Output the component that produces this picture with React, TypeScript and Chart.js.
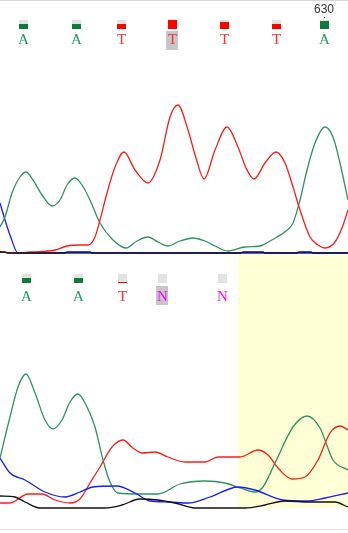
import React, { useEffect, useRef } from "react";
import Chart from "chart.js/auto";

// ---------- DATA (scan position, signal height) ----------
// Top panel traces
const topGreen: [number, number][] = [
  [0, 26], [5, 36], [12, 60], [20, 76], [26, 81], [33, 73], [42, 58], [52, 47], [60, 53], [67, 68],
  [75, 75], [82, 68], [90, 53], [100, 30], [113, 13], [126, 5], [137, 12], [148, 16], [158, 11],
  [168, 7], [180, 12], [193, 15], [205, 12], [215, 7], [228, 2], [245, 6], [260, 7], [270, 12],
  [277, 16], [286, 22], [293, 30], [300, 53], [307, 83], [315, 110], [325, 126], [333, 116],
  [340, 90], [348, 53],
];
const topRed: [number, number][] = [
  [0, 1], [18, 0], [30, 1], [42, 1.5], [55, 3], [67, 7], [80, 8], [88, 8], [95, 16], [100, 33],
  [107, 60], [115, 86], [124, 101], [135, 83], [148, 70], [160, 93], [170, 136], [178, 148],
  [188, 123], [196, 95], [204, 74], [215, 103], [227, 126], [238, 106], [246, 85], [254, 74],
  [265, 90], [276, 101], [285, 90], [293, 66], [300, 43], [310, 16], [318, 8], [325, 5],
  [335, 11], [342, 25], [348, 43],
];
const topBlue: [number, number][] = [
  [0, 50], [5, 33], [10, 18], [18, 0], [348, 0],
];
const topBlack: [number, number][] = [
  [0, 1], [5, 1], [7, 0], [65, 0], [67, 1], [90, 1], [92, 0], [241, 0], [243, 1], [263, 1],
  [265, 0], [297, 0], [299, 1], [311, 1], [313, 0], [348, 0],
];

// Bottom panel traces
const botGreen: [number, number][] = [
  [0, 51], [10, 92], [18, 122], [26, 135], [35, 116], [45, 89], [53, 80], [62, 89], [70, 107],
  [78, 115], [87, 102], [95, 82], [103, 49], [110, 27], [118, 16], [140, 15], [158, 15],
  [180, 25], [205, 28], [225, 26], [240, 21], [255, 17], [263, 22], [275, 46], [293, 82],
  [307, 93], [320, 81], [333, 49], [348, 39],
];
const botRed: [number, number][] = [
  [0, 6], [10, 6], [28, 15], [42, 15], [55, 9], [70, 6], [80, 10], [90, 26], [100, 42],
  [112, 62], [123, 69], [133, 61], [142, 56], [155, 57], [168, 52], [185, 47], [205, 47],
  [218, 52], [240, 52], [258, 59], [268, 54], [278, 41], [292, 30], [305, 32], [318, 49],
  [330, 76], [340, 83], [348, 79],
];
const botBlue: [number, number][] = [
  [0, 51], [10, 36], [25, 29], [45, 17], [65, 12], [80, 17], [93, 22], [117, 23], [135, 16],
  [150, 8], [168, 7], [188, 6], [210, 12], [238, 22], [255, 19], [283, 9], [307, 8], [325, 11],
  [348, 16],
];
const botBlack: [number, number][] = [
  [0, 13], [15, 12], [25, 7], [40, 1], [105, 1], [122, 4], [140, 10], [158, 9], [175, 6],
  [195, 1], [245, 1], [265, 4], [285, 8], [310, 7], [335, 7], [348, 2],
];

// Base calls
const topBases = ["A", "A", "T", "T", "T", "T", "A"];
const topBasePos = [23, 76, 121, 172, 224, 276, 324];
const topQuality = [55, 55, 50, 100, 75, 50, 85];
const topHighlight = 3;
const topPositionLabel = "630";
const topPositionIndex = 6;

const botBases = ["A", "A", "T", "N", "N"];
const botBasePos = [26, 78, 122, 162, 222];
const botQuality = [50, 50, 12, 0, 0];
const botHighlight = 3;
const botShadeStart = 238;

// ---------- STYLE ----------
const GREEN = "#2e9160";
const RED = "#ff1a1a";
const BLUE = "#1a1aff";
const BLACK = "#111111";
const letterColor: Record<string, string> = { A: "#1f9a62", T: "#ff3030", N: "#ff00ff", C: "#1a1aff", G: "#111" };
const qualColor: Record<string, string> = { A: "#0b7a3b", T: "#ff0000", N: "#ff00ff", C: "#0000ff", G: "#000" };

const toXY = (a: [number, number][]) => a.map(([x, y]) => ({ x, y }));

function ds(data: [number, number][], color: string) {
  return {
    data: toXY(data),
    borderColor: color,
    borderWidth: 1.3,
    pointRadius: 0,
    fill: false,
    tension: 0.4,
    cubicInterpolationMode: "monotone" as const,
    clip: false as any,
  };
}

function makeBasePlugin(
  bases: string[],
  pos: number[],
  qual: number[],
  hl: number,
  boxTop: number,
  letterY: number,
  hlTop: number,
  extra: (chart: any) => void,
  shadeStart: number | null
) {
  return {
    id: "bases",
    beforeDatasetsDraw(chart: any) {
      if (shadeStart === null) return;
      const { ctx, chartArea, scales } = chart;
      const x0 = scales.x.getPixelForValue(shadeStart);
      const yb = scales.y.getPixelForValue(0);
      ctx.save();
      ctx.fillStyle = "#ffffd6";
      ctx.fillRect(x0, chartArea.top, chartArea.right - x0, yb - 1 - chartArea.top);
      ctx.restore();
    },
    afterDraw(chart: any) {
      const { ctx, scales } = chart;
      ctx.save();
      bases.forEach((b, i) => {
        const px = Math.round(scales.x.getPixelForValue(pos[i]));
        // quality box
        const bw = 9, bh = 9;
        ctx.fillStyle = "#e2e2e2";
        ctx.fillRect(px - 4, boxTop, bw, bh);
        const fh = Math.round((bh * qual[i]) / 100);
        if (fh > 0) {
          ctx.fillStyle = qualColor[b];
          ctx.fillRect(px - 4, boxTop + bh - fh, bw, fh);
        }
        if (i === hl) {
          ctx.fillStyle = "#c6c6c6";
          ctx.fillRect(px - 6, hlTop, 12, 19);
        }
        ctx.fillStyle = letterColor[b];
        ctx.font = "15px 'Liberation Serif', 'DejaVu Serif', serif";
        ctx.textAlign = "center";
        ctx.textBaseline = "middle";
        ctx.fillText(b, px + 0.5, letterY);
      });
      extra(chart);
      ctx.restore();
    },
  };
}

export default function App() {
  const topRef = useRef<HTMLCanvasElement>(null);
  const botRef = useRef<HTMLCanvasElement>(null);

  useEffect(() => {
    const commonScales = {
      x: { type: "linear" as const, min: 0, max: 348, display: false },
      y: { type: "linear" as const, min: 0, max: 253, display: false },
    };
    const commonOpts = (padBottom: number) => ({
      responsive: false,
      animation: false as const,
      layout: { padding: { left: 0, right: 0, top: 0, bottom: padBottom } },
      plugins: { legend: { display: false }, tooltip: { enabled: false } },
      scales: commonScales,
      events: [],
    });

    const topChart = new Chart(topRef.current!, {
      type: "line",
      data: {
        datasets: [ds(topBlack, BLACK), ds(topRed, RED), ds(topGreen, GREEN), ds(topBlue, BLUE)],
      },
      options: commonOpts(3) as any,
      plugins: [
        makeBasePlugin(
          topBases, topBasePos, topQuality, topHighlight, 20, 40, 31,
          (chart: any) => {
            const { ctx, scales } = chart;
            const px = Math.round(scales.x.getPixelForValue(topBasePos[topPositionIndex]));
            ctx.fillStyle = "#333";
            ctx.font = "12px 'Liberation Sans', Arial, sans-serif";
            ctx.textAlign = "center";
            ctx.textBaseline = "middle";
            ctx.fillText(topPositionLabel, px, 10);
            ctx.fillRect(px, 17, 1, 1);
            ctx.fillStyle = "#d6d6d6";
            ctx.fillRect(0, 0, chart.width, 1);
          },
          null
        ) as any,
      ],
    });

    const botChart = new Chart(botRef.current!, {
      type: "line",
      data: {
        datasets: [ds(botBlack, BLACK), ds(botBlue, BLUE), ds(botRed, RED), ds(botGreen, GREEN)],
      },
      options: commonOpts(24) as any,
      plugins: [
        makeBasePlugin(
          botBases, botBasePos, botQuality, botHighlight, 18, 41, 30,
          (chart: any) => {
            const { ctx } = chart;
            ctx.fillStyle = "#e2e2e2";
            ctx.fillRect(0, 273, chart.width, 1);
          },
          botShadeStart
        ) as any,
      ],
    });

    return () => {
      topChart.destroy();
      botChart.destroy();
    };
  }, []);

  return (
    <div style={{ position: "fixed", left: 0, top: 0, width: 348, height: 533, background: "#fff" }}>
      <canvas ref={topRef} width={348} height={256} style={{ position: "absolute", left: 0, top: 0 }} />
      <canvas ref={botRef} width={348} height={277} style={{ position: "absolute", left: 0, top: 256 }} />
    </div>
  );
}
